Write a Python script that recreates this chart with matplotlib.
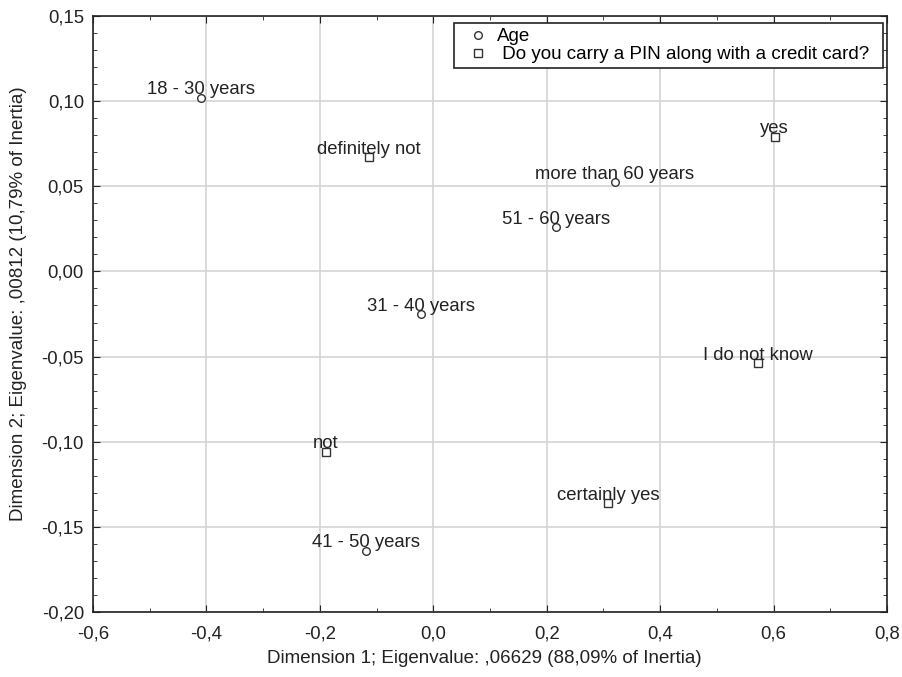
import matplotlib
matplotlib.use("Agg")
import matplotlib.pyplot as plt
from matplotlib.ticker import MultipleLocator, FuncFormatter

plt.rcParams['font.family'] = ['Liberation Sans', 'DejaVu Sans']

# Age categories
age_labels = ["18 - 30 years", "31 - 40 years", "41 - 50 years", "51 - 60 years", "more than 60 years"]
age_x = [-0.409, -0.021, -0.119, 0.216, 0.320]
age_y = [0.102, -0.025, -0.164, 0.026, 0.0525]

# PIN answers
pin_labels = ["definitely not", "not", "I do not know", "certainly yes", "yes"]
pin_x = [-0.113, -0.189, 0.572, 0.308, 0.602]
pin_y = [0.067, -0.106, -0.054, -0.136, 0.079]

fig = plt.figure(figsize=(9.03, 6.77), dpi=100)
ax = fig.add_axes([93 / 903, 65 / 677, 794 / 903, 596 / 677])

ax.plot(age_x, age_y, linestyle="none", marker="o", markersize=5.5,
        markerfacecolor="white", markeredgecolor="#333333", markeredgewidth=1.0,
        label="Age", zorder=3)
ax.plot(pin_x, pin_y, linestyle="none", marker="s", markersize=6,
        markerfacecolor="white", markeredgecolor="#333333", markeredgewidth=1.0,
        label=" Do you carry a PIN along with a credit card?", zorder=3)

for lab, x, y in list(zip(age_labels, age_x, age_y)) + list(zip(pin_labels, pin_x, pin_y)):
    ax.annotate(lab, (x, y), xytext=(0, 2.5), textcoords="offset points",
                ha="center", va="baseline", fontsize=13.3, color="#222222", zorder=4)

ax.set_xlim(-0.6, 0.8)
ax.set_ylim(-0.20, 0.15)
ax.xaxis.set_major_locator(MultipleLocator(0.2))
ax.xaxis.set_minor_locator(MultipleLocator(0.1))
ax.yaxis.set_major_locator(MultipleLocator(0.05))
ax.yaxis.set_minor_locator(MultipleLocator(0.01))
ax.xaxis.set_major_formatter(FuncFormatter(lambda v, p: f"{v:.1f}".replace(".", ",").replace("-0,0", "0,0")))
ax.yaxis.set_major_formatter(FuncFormatter(lambda v, p: f"{v:.2f}".replace(".", ",").replace("-0,00", "0,00")))

ax.tick_params(which="both", direction="in", top=True, right=True, colors="#222222")
ax.tick_params(which="major", length=5, labelsize=13.3)
ax.tick_params(axis="x", which="major", pad=9.5)
ax.tick_params(axis="y", which="major", pad=6.5)
ax.tick_params(which="minor", length=3)
ax.grid(True, which="major", color="#d4d4d4", linewidth=1.2)
for s in ax.spines.values():
    s.set_color("#222222")
    s.set_linewidth(1.2)

ax.set_xlabel("Dimension 1; Eigenvalue: ,06629 (88,09% of Inertia)", fontsize=13.5, color="#222222")
ax.set_ylabel("Dimension 2; Eigenvalue: ,00812 (10,79% of Inertia)", fontsize=13.5, color="#222222")
ax.xaxis.set_label_coords(0.493, -0.063)
ax.yaxis.set_label_coords(-0.083, 0.518)

leg = ax.legend(loc="upper left", bbox_to_anchor=(0.4547, 0.9883, 0.5403, 0), mode="expand",
                fontsize=13.5, fancybox=False, framealpha=1, edgecolor="#222222",
                handletextpad=0.0, borderpad=0.27, labelspacing=0.05,
                handlelength=2.0, borderaxespad=0)
leg.get_frame().set_linewidth(1.2)

fig.savefig("out.png", dpi=100)
